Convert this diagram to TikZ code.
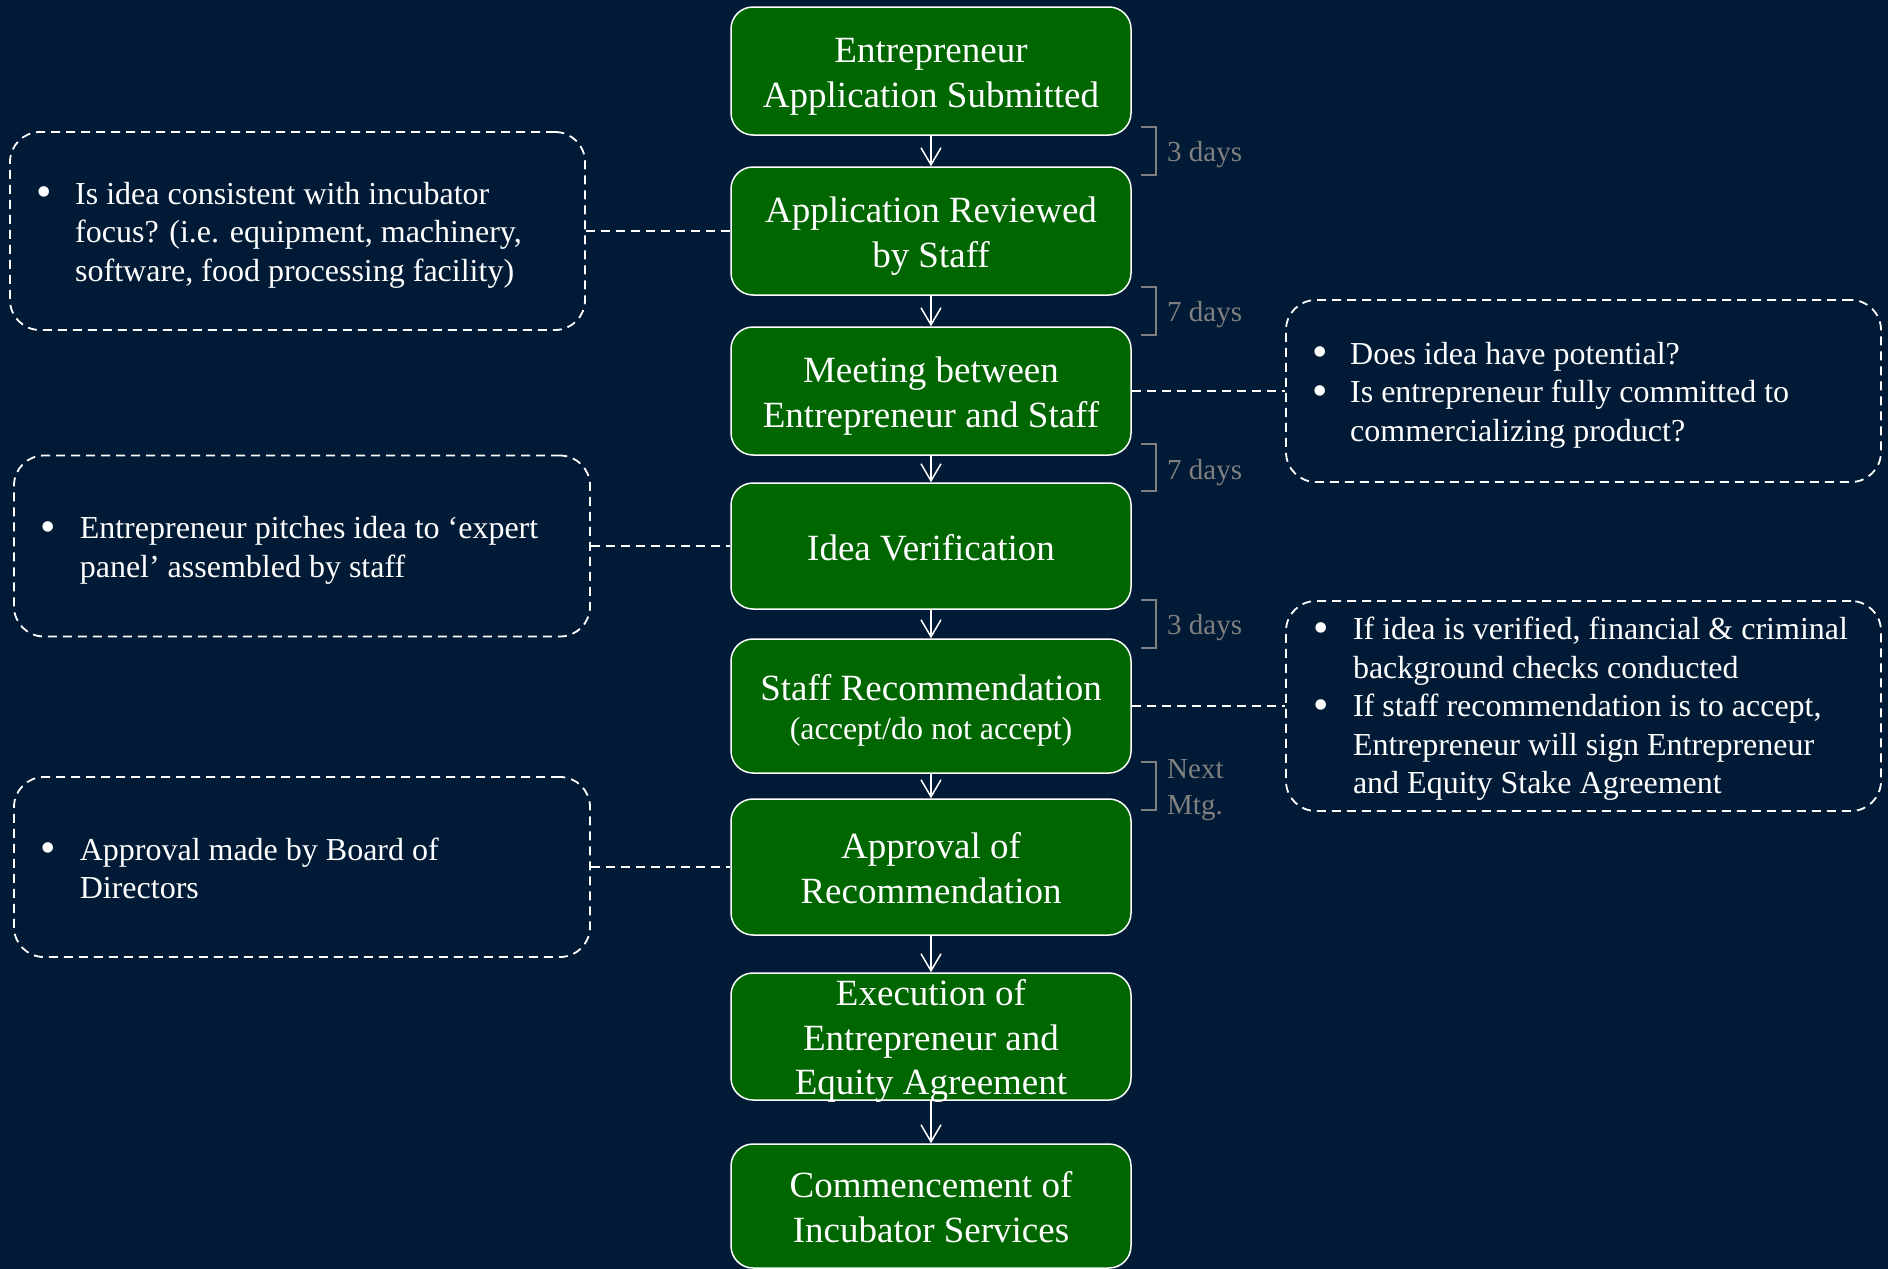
\documentclass[tikz,border=0pt]{standalone}
\usepackage{fontspec}
\setmainfont{Liberation Serif}
\usetikzlibrary{arrows.meta}
\definecolor{bg}{RGB}{1,27,54}
\definecolor{boxgreen}{RGB}{0,102,0}
\definecolor{lab}{RGB}{128,128,128}
\newcommand{\bigbul}[1]{\makebox[#1][l]{\smash{\raisebox{-2.6pt}{\fontsize{44}{44}\selectfont\textbullet}}}}
\begin{document}
\begin{tikzpicture}[x=1pt,y=-1pt,
  stepbox/.style={draw=white, line width=1.5pt, fill=boxgreen, rounded corners=22pt, minimum width=400pt, inner sep=0pt},
  boxtxt/.style={text=white, inner sep=0pt, anchor=base, font=\fontsize{37}{44.5}\selectfont},
  note/.style={draw=white, line width=1.8pt, dash pattern=on 9pt off 6pt, rounded corners=30pt, inner sep=0pt},
  notetxt/.style={text=white, inner sep=0pt, anchor=base west, font=\fontsize{32}{38.5}\selectfont},
  arr/.style={draw=white, line width=1.5pt, -{Straight Barb[length=17pt,width=20pt]}},
  link/.style={draw=white, line width=1.8pt, dash pattern=on 9pt off 6pt},
  days/.style={text=lab, inner sep=0pt, anchor=base west, font=\fontsize{29}{36}\selectfont},
  brk/.style={draw=lab, line width=2pt}
]
\fill[bg] (0,0) rectangle (1888,1269);
\useasboundingbox (0,0) rectangle (1888,1269);

% main boxes
\node[stepbox, minimum height=128pt] (b1) at (931,71) {};
\node[stepbox, minimum height=128pt] (b2) at (931,231) {};
\node[stepbox, minimum height=128pt] (b3) at (931,391) {};
\node[stepbox, minimum height=126pt] (b4) at (931,546) {};
\node[stepbox, minimum height=134pt] (b5) at (931,706) {};
\node[stepbox, minimum height=136pt] (b6) at (931,867) {};
\node[stepbox, minimum height=127pt] (b7) at (931,1036.5) {};
\node[stepbox, minimum height=124pt] (b8) at (931,1206) {};

\node[boxtxt] (x1) at (931,62.75) {\begin{tabular}[t]{@{}c@{}}Entrepreneur\\Application Submitted\end{tabular}};
\node[boxtxt] (x2) at (931,222.75) {\begin{tabular}[t]{@{}c@{}}Application Reviewed\\by Staff\end{tabular}};
\node[boxtxt] (x3) at (931,382.75) {\begin{tabular}[t]{@{}c@{}}Meeting between\\Entrepreneur and Staff\end{tabular}};
\node[boxtxt] (x4) at (931,560) {Idea Verification};
\node[boxtxt] (x5) at (931,700.7) {\begin{tabular}[t]{@{}c@{}}Staff Recommendation\\[-5.5pt]{\fontsize{32}{39}\selectfont (accept/do not accept)}\end{tabular}};
\node[boxtxt] (x6) at (931,858.75) {\begin{tabular}[t]{@{}c@{}}Approval of\\Recommendation\end{tabular}};
\node[boxtxt] (x7) at (931,1005.5) {\begin{tabular}[t]{@{}c@{}}Execution of\\Entrepreneur and\\Equity Agreement\end{tabular}};
\node[boxtxt] (x8) at (931,1197.75) {\begin{tabular}[t]{@{}c@{}}Commencement of\\Incubator Services\end{tabular}};

% arrows
\draw[arr] (b1) -- (b2);
\draw[arr] (b2) -- (b3);
\draw[arr] (b3) -- (b4);
\draw[arr] (b4) -- (b5);
\draw[arr] (b5) -- (b6);
\draw[arr] (b6) -- (b7);
\draw[arr] (b7) -- (b8);

% time brackets and labels
\draw[brk] (1141,126.5) -- (1156,126.5) -- (1156,174.5) -- (1141,174.5);
\draw[brk] (1141,286.5) -- (1156,286.5) -- (1156,334.5) -- (1141,334.5);
\draw[brk] (1141,444) -- (1156,444) -- (1156,491) -- (1141,491);
\draw[brk] (1141,600) -- (1156,600) -- (1156,648) -- (1141,648);
\draw[brk] (1141,762) -- (1156,762) -- (1156,810) -- (1141,810);
\node[days] (t1) at (1167,161) {3 days};
\node[days] (t2) at (1167,321) {7 days};
\node[days] (t3) at (1167,479) {7 days};
\node[days] (t4) at (1167,634) {3 days};
\node[days] (t5) at (1167,778) {\begin{tabular}[t]{@{}l@{}}Next\\Mtg.\end{tabular}};

% callouts
\node[note, minimum width=575pt, minimum height=198pt] (L1) at (297.5,231) {};
\node[note, minimum width=576pt, minimum height=181pt] (L2) at (302,546) {};
\node[note, minimum width=576pt, minimum height=180pt] (L3) at (302,867) {};
\node[note, minimum width=595pt, minimum height=182pt] (R1) at (1583.5,391) {};
\node[note, minimum width=595pt, minimum height=210pt] (R2) at (1583.5,706) {};

\draw[link] (L1) -- (b2);
\draw[link] (L2) -- (b4);
\draw[link] (L3) -- (b6);
\draw[link] (b3) -- (R1);
\draw[link] (b5) -- (R2);

\node[notetxt] (n1) at (35.8,204) {\begin{tabular}[t]{@{}l@{}l@{}}\bigbul{39.2pt} & Is idea consistent with incubator\\ & focus? (i.e. equipment, machinery,\\ & software, food processing facility)\end{tabular}};
\node[notetxt] (n2) at (40.5,538.6) {\begin{tabular}[t]{@{}l@{}l@{}}\bigbul{39.1pt} & Entrepreneur pitches idea to ‘expert\\ & panel’ assembled by staff\end{tabular}};
\node[notetxt] (n3) at (40.5,860) {\begin{tabular}[t]{@{}l@{}l@{}}\bigbul{39.1pt} & Approval made by Board of\\ & Directors\end{tabular}};
\node[notetxt] (n4) at (1311.9,364) {\begin{tabular}[t]{@{}l@{}l@{}}\bigbul{38.1pt} & Does idea have potential?\\ \bigbul{38.1pt} & Is entrepreneur fully committed to\\ & commercializing product?\end{tabular}};
\node[notetxt] (n5) at (1313.3,639.7) {\begin{tabular}[t]{@{}l@{}l@{}}\bigbul{39.5pt} & If idea is verified, financial \& criminal\\ & background checks conducted\\ \bigbul{39.5pt} & If staff recommendation is to accept,\\ & Entrepreneur will sign Entrepreneur\\ & and Equity Stake Agreement\end{tabular}};
\end{tikzpicture}
\end{document}
